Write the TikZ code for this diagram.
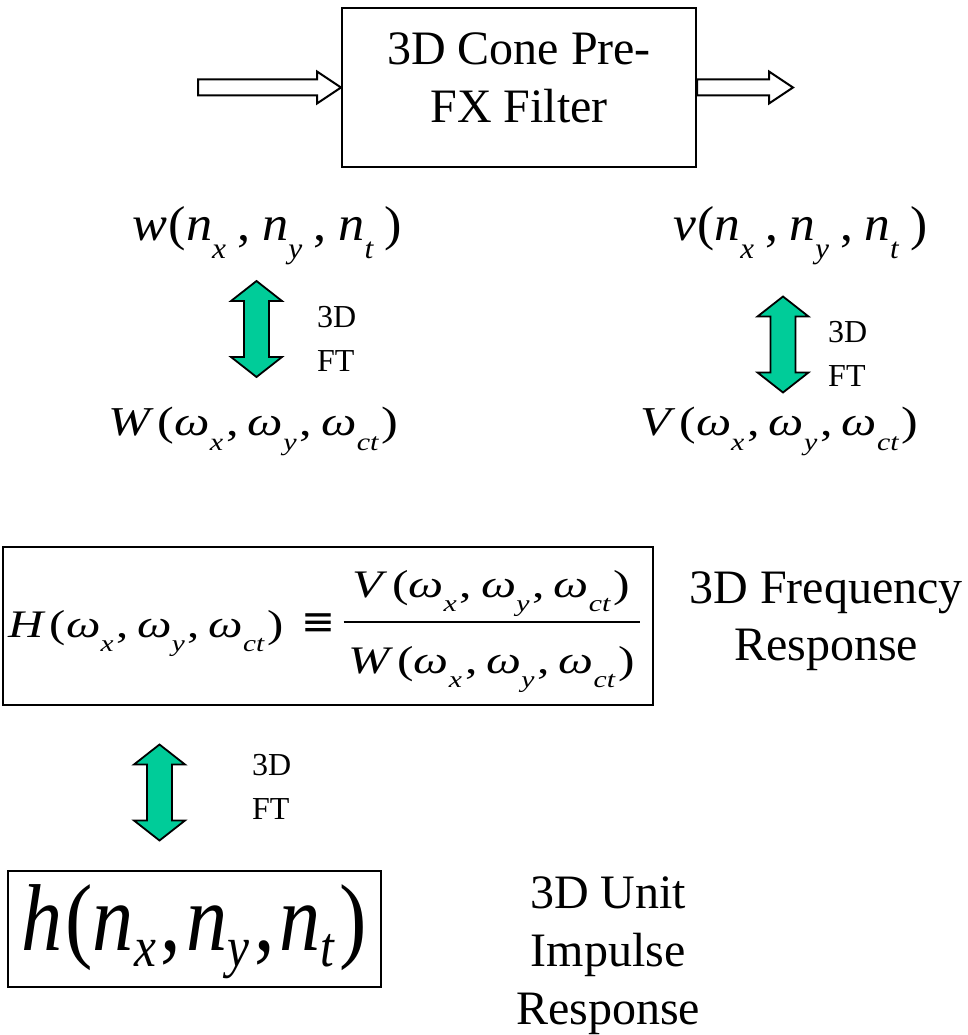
\documentclass[tikz,border=0pt]{standalone}
\usepackage{fontspec}
\setmainfont{Liberation Serif}
\newfontfamily\symfont{DejaVu Sans}
\usepackage{graphicx}
\usetikzlibrary{calc}
\definecolor{ftgreen}{RGB}{0,204,153}
\newcommand\sbs[2][0.37em]{\raisebox{-#1}{\scalebox{0.6}{\itshape #2}}}
\newcommand\exN[3][0.37em]{\textit{#2}\kern0.03em(\textit{n}\sbs[#1]{x}\kern#3,\kern#3\textit{n}\sbs[#1]{y}\kern#3,\kern#3\textit{n}\sbs[#1]{t}\kern#3)}
\newcommand\exW[1]{\textit{#1}\kern0.08em(\textit{ω}\sbs{x}\kern0.06em,\kern0.18em\textit{ω}\sbs{y}\kern0.06em,\kern0.18em\textit{ω}\sbs{ct}\kern0.06em)}
\newcommand\fitto[2]{\resizebox{#1}{\height}{#2}}
\newcommand\idto{\raisebox{2pt}{\resizebox{34pt}{!}{\symfont ≡}}}
\newsavebox\numbx
\newsavebox\denbx
\newcommand\fracbx[3]{\sbox\numbx{#1}\sbox\denbx{#2}%
 \rlap{\raisebox{40pt}{\makebox[#3]{\usebox\numbx}}}%
 \rlap{\raisebox{14pt}{\rule{#3}{2pt}}}%
 \raisebox{-36pt}{\makebox[#3]{\usebox\denbx}}}
\tikzset{
  fatarrow/.pic={\path[ftarrow] (0,-48) -- (25.5,-28) -- (12.5,-28) -- (12.5,28) -- (25.5,28) -- (0,48) -- (-25.5,28) -- (-12.5,28) -- (-12.5,-28) -- (-25.5,-28) -- cycle;},
  box/.style={draw, line width=2pt, inner sep=0pt},
  txt/.style={inner sep=0pt},
  hollow/.style={draw, fill=white, line width=2pt, line join=miter},
  ftarrow/.style={draw, fill=ftgreen, line width=1.8pt, line join=miter},
  big/.style={font=\fontsize{48}{58}\selectfont},
  small/.style={font=\fontsize{32}{44}\selectfont}
}
\begin{document}
\begin{tikzpicture}[x=1pt,y=-1pt]
\fill[white] (0,0) rectangle (967,1035);
\useasboundingbox (0,0) rectangle (967,1035);

% filter box
\node[box, big, minimum width=354pt, minimum height=159pt] (filt) at (519,87.5)
  {\raisebox{-35.5pt}[0pt][0pt]{\begin{tabular}[b]{@{}c@{}}3D Cone Pre-\\FX Filter\end{tabular}}};
\path[hollow, shift={(filt.west)}] (-143,-8) -- (-24,-8) -- (-24,-16) -- (0,0) -- (-24,16) -- (-24,8) -- (-143,8) -- cycle;
\path[hollow, shift={(filt.east)}] (0,-8) -- (72,-8) -- (72,-16) -- (96,0) -- (72,16) -- (72,8) -- (0,8) -- cycle;

% signals
\node[txt, font=\fontsize{49}{58}\selectfont, anchor=base west] (w) at (132,240) {\fitto{270pt}{\exN{w}{0.22em}}};
\node[txt, font=\fontsize{49}{58}\selectfont, anchor=base west] (v) at (673,240) {\fitto{254pt}{\exN{v}{0.22em}}};
\node[txt, font=\fontsize{41}{50}\selectfont, anchor=base west] (W) at (108,435) {\fitto{290pt}{\exW{W}}};
\node[txt, font=\fontsize{41}{50}\selectfont, anchor=base west] (V) at (640,435) {\fitto{278pt}{\exW{V}}};

% transforms
\coordinate (a1) at (256.5,329);
\coordinate (a2) at (783,344.5);
\coordinate (a3) at (159.5,792.5);
\pic at (a1) {fatarrow};
\pic at (a2) {fatarrow};
\pic at (a3) {fatarrow};
\node[txt, small, anchor=base west] (ft1) at (317,327) {\begin{tabular}[t]{@{}l@{}}3D\\FT\end{tabular}};
\node[txt, small, anchor=base west] (ft2) at (828,342) {\begin{tabular}[t]{@{}l@{}}3D\\FT\end{tabular}};
\node[txt, small, anchor=base west] (ft3) at (252,775) {\begin{tabular}[t]{@{}l@{}}3D\\FT\end{tabular}};

% frequency response
\node[box, minimum width=650pt, minimum height=158pt] (H) at (328,626)
  {\raisebox{-11pt}[0pt][0pt]{\fontsize{39}{47}\selectfont\fitto{275pt}{\exW{H}}\hspace{18pt}\idto\hspace{8pt}\fracbx{\fitto{277pt}{\exW{V}}}{\fitto{286pt}{\exW{W}}}{296pt}\hspace{8pt}}};
\node[txt, font=\fontsize{48}{57}\selectfont, anchor=base] (freq) at (826,603) {\begin{tabular}[t]{@{}c@{}}3D Frequency\\Response\end{tabular}};

% impulse response
\node[box, minimum width=373pt, minimum height=116pt] (hb) at (194.5,929)
  {\raisebox{-21pt}[0pt][0pt]{\fontsize{95}{100}\selectfont\fitto{345pt}{\exN[0.17em]{h}{0.06em}}}};
\node[txt, big, anchor=base] (unit) at (608,908) {\begin{tabular}[t]{@{}c@{}}3D Unit\\Impulse\\Response\end{tabular}};
\end{tikzpicture}
\end{document}
